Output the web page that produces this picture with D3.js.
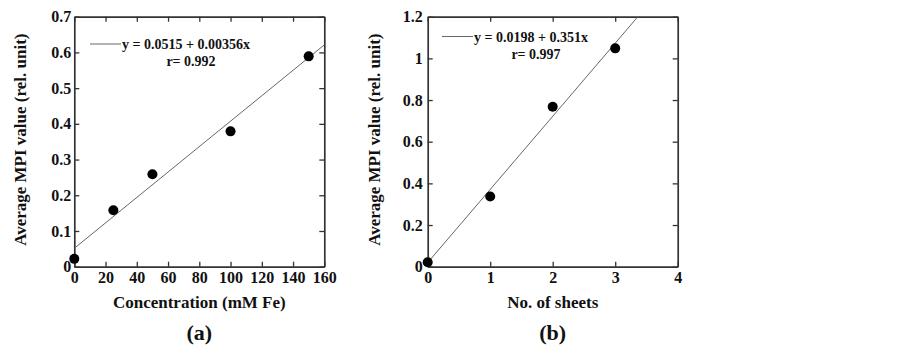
<!DOCTYPE html>
<html>
<head>
<meta charset="utf-8">
<script src="https://cdn.jsdelivr.net/npm/d3@7"></script>
<style>
  html, body { margin: 0; padding: 0; background: #fff; }
  svg text { font-family: "Liberation Serif", "Times New Roman", serif; font-weight: bold; fill: #111; }
</style>
</head>
<body>
<svg id="chart" width="902" height="351"></svg>
<script>
// ---- Data ----
const concX = [0, 25, 50, 100, 150];
const concY = [0.022, 0.158, 0.259, 0.379, 0.589];
const concFit = { a: 0.0515, b: 0.00356 };
const concXTicks = [0, 20, 40, 60, 80, 100, 120, 140, 160];
const concYTicks = [0, 0.1, 0.2, 0.3, 0.4, 0.5, 0.6, 0.7];

const sheetX = [0, 1, 2, 3];
const sheetY = [0.021, 0.337, 0.768, 1.048];
const sheetFit = { a: 0.0198, b: 0.351 };
const sheetXTicks = [0, 1, 2, 3, 4];
const sheetYTicks = [0, 0.2, 0.4, 0.6, 0.8, 1, 1.2];

const svg = d3.select("#chart");

function drawPanel(o) {
  const g = svg.append("g");
  const x = d3.scaleLinear().domain(o.xDomain).range([o.left, o.left + o.w]);
  const y = d3.scaleLinear().domain(o.yDomain).range([o.top + o.h, o.top]);
  const fmtY = d => String(+d.toFixed(2));

  const clipId = "clip" + o.id;
  svg.append("clipPath").attr("id", clipId).append("rect")
    .attr("x", o.left).attr("y", o.top).attr("width", o.w).attr("height", o.h);

  // axes
  const axB = g.append("g").attr("transform", `translate(0,${o.top + o.h})`)
    .call(d3.axisBottom(x).tickValues(o.xTicks).tickSizeInner(-5).tickSizeOuter(0).tickPadding(5).tickFormat(d3.format("")));
  const axT = g.append("g").attr("transform", `translate(0,${o.top})`)
    .call(d3.axisTop(x).tickValues(o.xTicks).tickSizeInner(-5).tickSizeOuter(0).tickFormat(""));
  const axL = g.append("g").attr("transform", `translate(${o.left},0)`)
    .call(d3.axisLeft(y).tickValues(o.yTicks).tickSizeInner(-5).tickSizeOuter(0).tickPadding(o.yPad).tickFormat(fmtY));
  const axR = g.append("g").attr("transform", `translate(${o.left + o.w},0)`)
    .call(d3.axisRight(y).tickValues(o.yTicks).tickSizeInner(-5).tickSizeOuter(0).tickFormat(""));
  [axB, axT, axL, axR].forEach(a => {
    a.select(".domain").attr("stroke", "#333").attr("stroke-width", 1.7);
    a.selectAll(".tick line").attr("stroke", "#333").attr("stroke-width", 1.3);
    a.selectAll("text").style("font-size", "16px").attr("fill", "#111");
  });

  // fit line
  const xEnd = Math.min(o.xDomain[1], (o.yDomain[1] - o.fit.a) / o.fit.b);
  g.append("line").attr("clip-path", `url(#${clipId})`)
    .attr("x1", x(0)).attr("y1", y(o.fit.a))
    .attr("x2", x(xEnd)).attr("y2", y(o.fit.a + o.fit.b * xEnd))
    .attr("stroke", "#666").attr("stroke-width", 1);

  // points
  g.selectAll("circle.pt").data(o.xs.map((v, i) => [v, o.ys[i]])).enter()
    .append("circle").attr("class", "pt")
    .attr("cx", d => x(d[0])).attr("cy", d => y(d[1])).attr("r", 5).attr("fill", "#000");

  // legend
  g.append("line").attr("x1", o.legX).attr("x2", o.legX + 31)
    .attr("y1", o.legY).attr("y2", o.legY).attr("stroke", "#666").attr("stroke-width", 1);
  g.append("text").attr("x", o.legX + 32).attr("y", o.legY + 5)
    .style("font-size", "14px").text(o.eq);
  g.append("text").attr("x", o.rX).attr("y", o.legY + 22).attr("text-anchor", "middle")
    .style("font-size", "14px").text(o.r);

  // axis titles
  g.append("text").attr("x", o.left + o.w / 2).attr("y", 308).attr("text-anchor", "middle")
    .style("font-size", "17px").text(o.xTitle);
  g.append("text").attr("transform", `translate(${o.yTitleX},${o.top + o.h / 2 - 2}) rotate(-90)`)
    .attr("text-anchor", "middle").attr("dy", "0.35em")
    .style("font-size", "17px").text(o.yTitle);
  g.append("text").attr("x", o.left + o.w / 2).attr("y", 340).attr("text-anchor", "middle")
    .style("font-size", "22px").text(o.label);
}

drawPanel({
  id: "a", left: 74.3, top: 16.7, w: 250, h: 250,
  xDomain: [0, 160], yDomain: [0, 0.7], xTicks: concXTicks, yTicks: concYTicks,
  xs: concX, ys: concY, fit: concFit, yPad: 3,
  legX: 90, legY: 44, rX: 191,
  eq: "y = 0.0515 + 0.00356x", r: "r= 0.992",
  xTitle: "Concentration (mM Fe)", yTitle: "Average MPI value (rel. unit)",
  yTitleX: 20, label: "(a)"
});

drawPanel({
  id: "b", left: 427.7, top: 16.7, w: 250, h: 250,
  xDomain: [0, 4], yDomain: [0, 1.2], xTicks: sheetXTicks, yTicks: sheetYTicks,
  xs: sheetX, ys: sheetY, fit: sheetFit, yPad: 5,
  legX: 442, legY: 36.5, rX: 536,
  eq: "y = 0.0198 + 0.351x", r: "r= 0.997",
  xTitle: "No. of sheets", yTitle: "Average MPI value (rel. unit)",
  yTitleX: 374, label: "(b)"
});
</script>
</body>
</html>
